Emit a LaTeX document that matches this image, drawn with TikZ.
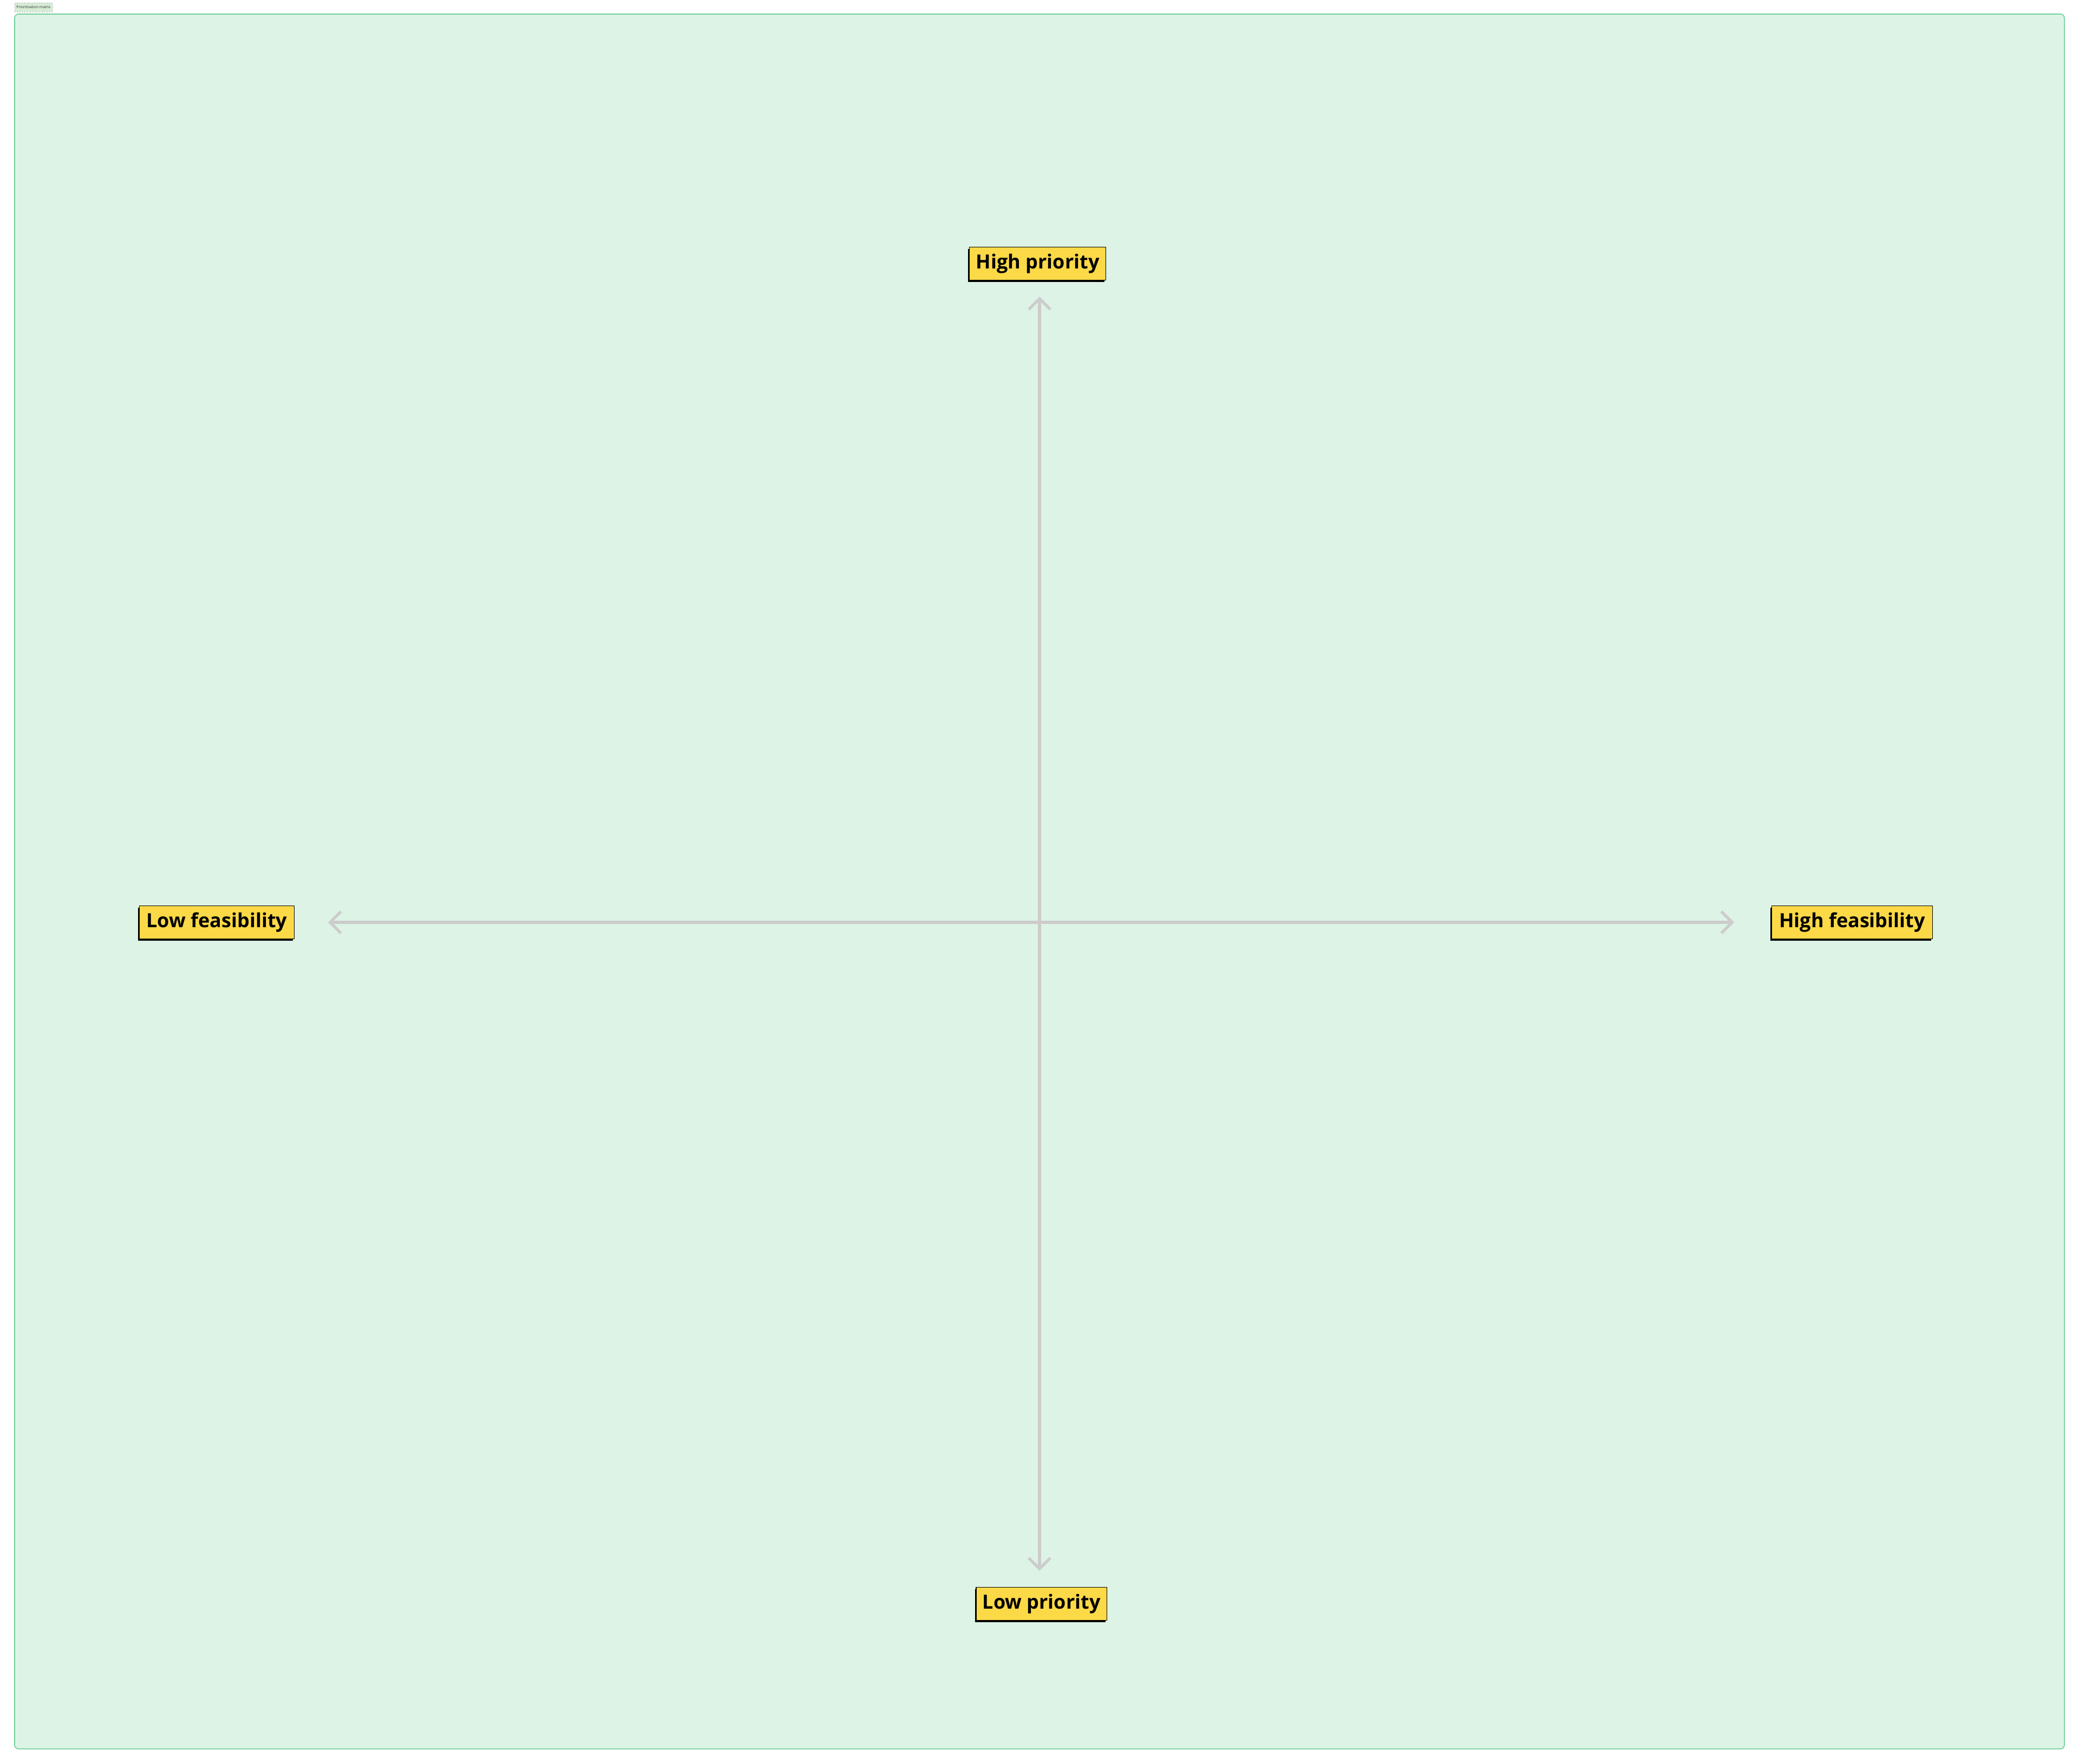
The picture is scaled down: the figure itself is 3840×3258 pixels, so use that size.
\documentclass[tikz,border=0pt]{standalone}
\usepackage{fontspec}
\setmainfont{Open Sans}
\usepackage{tikz}
\usetikzlibrary{arrows.meta,positioning,shadows}
\definecolor{mint}{RGB}{221, 243, 229}
\definecolor{mintline}{RGB}{111, 207, 151}
\definecolor{tagfill}{RGB}{214, 236, 214}
\definecolor{yellow}{RGB}{252, 217, 71}
\definecolor{axisgray}{RGB}{204, 204, 204}
\tikzstyle{frame} = [draw=mintline, line width=0.4pt, fill=mint, rounded corners=1.8pt]
\tikzstyle{tag} = [draw=gray, densely dotted, line width=0.15pt, fill=tagfill, text=black!80, font=\fontsize{1.7}{2}\selectfont, inner sep=0pt, minimum width=17.5pt, minimum height=4.2pt]
\tikzstyle{axislabel} = [rectangle, draw=black, line width=0.3pt, fill=yellow, text=black, font=\bfseries\fontsize{9}{11}\selectfont, inner sep=0pt, minimum height=15.2pt, drop shadow={shadow xshift=-0.6pt, shadow yshift=-0.9pt, fill=black, opacity=1}]
\tikzstyle{axis} = [draw=axisgray, line width=1.3pt, line cap=round, {Straight Barb[length=5pt, width=10pt, line width=1.3pt]}-{Straight Barb[length=5pt, width=10pt, line width=1.3pt]}]

\begin{document}
\begin{tikzpicture}[x=0.25pt, y=-0.25pt]
\useasboundingbox (0,0) rectangle (3840,3258);

% frame =============================
\draw[frame] (27,26) rectangle (3813,3231);
\node[tag] (title) at (62,13.5) {Prioritisation matrix};

% axis ends
\coordinate (top) at (1920,548);
\coordinate (bottom) at (1920,2902);
\coordinate (left) at (606,1704);
\coordinate (right) at (3203,1704);

% labels
\node[axislabel, minimum width=63pt, above=7.5pt of top, xshift=-0.8pt] (highprio) {High priority};
\node[axislabel, minimum width=60.3pt, below=7.5pt of bottom, xshift=0.9pt] (lowprio) {Low priority};
\node[axislabel, minimum width=71.5pt, left=15.5pt of left] (lowfeas) {Low feasibility};
\node[axislabel, minimum width=74.3pt, right=17.2pt of right] (highfeas) {High feasibility};

% axes
\path[axis] (top) -- (bottom);
\path[axis] (left) -- (right);

\end{tikzpicture}
\end{document}
